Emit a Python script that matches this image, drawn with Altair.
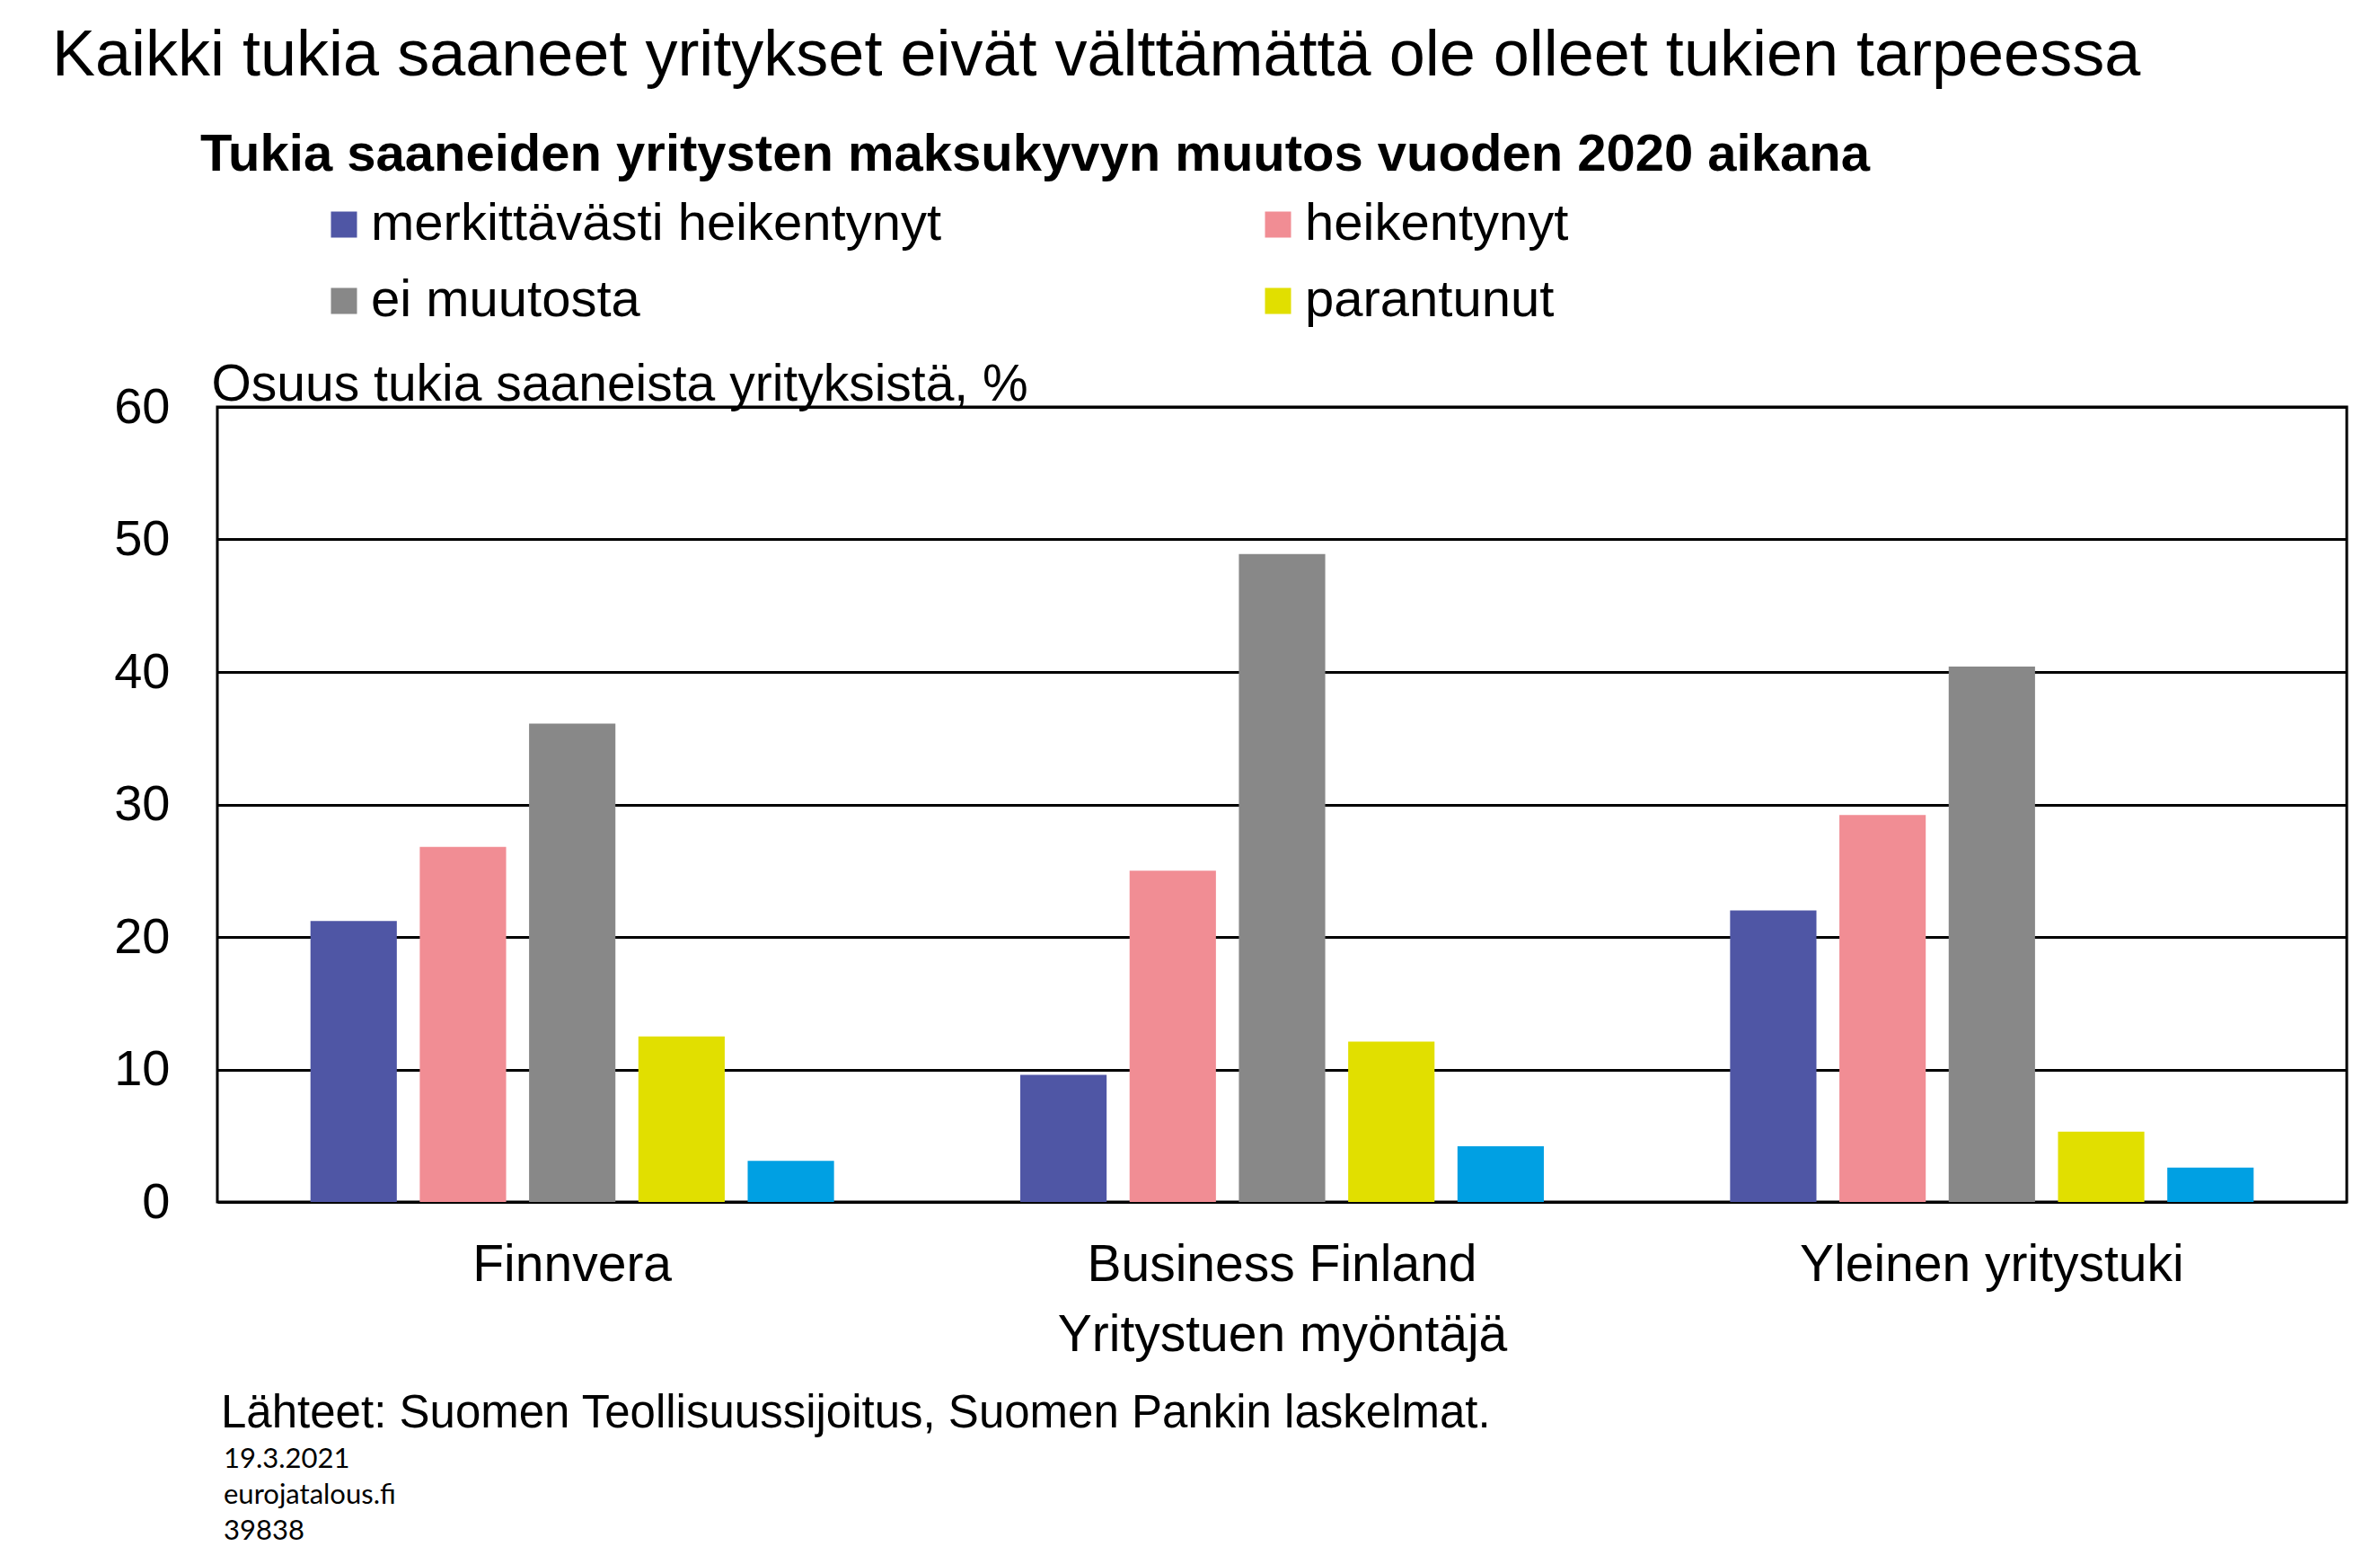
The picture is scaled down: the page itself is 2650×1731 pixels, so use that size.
import altair as alt
import pandas as pd

# ---- data ----
categories = ["Finnvera", "Business Finland", "Yleinen yritystuki"]
series = [
    "merkittävästi heikentynyt",
    "heikentynyt",
    "ei muutosta",
    "parantunut",
    "merkittävästi parantunut",
]
merkittavasti_heikentynyt = [21.2, 9.6, 22.0]
heikentynyt = [26.8, 25.0, 29.2]
ei_muutosta = [36.1, 48.9, 40.4]
parantunut = [12.5, 12.1, 5.3]
merkittavasti_parantunut = [3.1, 4.2, 2.6]
colors = ["#4F56A5", "#F18D94", "#888888", "#E1DF00", "#00A0E3"]
y_ticks = [0, 10, 20, 30, 40, 50, 60]

title_text = "Kaikki tukia saaneet yritykset eivät välttämättä ole olleet tukien tarpeessa"
subtitle_text = "Tukia saaneiden yritysten maksukyvyn muutos vuoden 2020 aikana"
y_title = "Osuus tukia saaneista yrityksistä, %"
x_title = "Yritystuen myöntäjä"
source_text = "Lähteet: Suomen Teollisuussijoitus, Suomen Pankin laskelmat."
footer_date = "19.3.2021"
footer_site = "eurojatalous.fi"
footer_id = "39838"

values_by_series = [
    merkittavasti_heikentynyt,
    heikentynyt,
    ei_muutosta,
    parantunut,
    merkittavasti_parantunut,
]
rows = []
for s, vals in zip(series, values_by_series):
    for c, v in zip(categories, vals):
        rows.append({"myontaja": c, "sarja": s, "osuus": v})
df = pd.DataFrame(rows)

FONT = "Liberation Sans"
W, H = 2371, 885

bars = alt.Chart(df).mark_bar().encode(
    x=alt.X(
        "myontaja:N",
        sort=categories,
        scale=alt.Scale(paddingInner=0, paddingOuter=0),
        axis=alt.Axis(
            title=x_title,
            labelAngle=0,
            labelFont=FONT,
            labelFontSize=57,
            labelColor="black",
            labelPadding=42,
            labelLimit=2000,
            ticks=False,
            tickSize=0,
            domain=False,
            grid=False,
            titleFont=FONT,
            titleFontSize=57,
            titleFontWeight="normal",
            titleColor="black",
            titleX=W / 2,
            titleY=165,
            titleBaseline="alphabetic",
            titleAlign="center",
        ),
    ),
    xOffset=alt.XOffset(
        "sarja:N",
        sort=series,
        scale=alt.Scale(paddingInner=0.21, paddingOuter=0.852),
    ),
    y=alt.Y(
        "osuus:Q",
        scale=alt.Scale(domain=[0, 60], nice=False),
        axis=alt.Axis(
            values=y_ticks,
            title=y_title,
            titleAngle=0,
            titleAlign="left",
            titleBaseline="alphabetic",
            titleX=-7,
            titleY=-8,
            titleFont=FONT,
            titleFontSize=57,
            titleFontWeight="normal",
            titleColor="black",
            labelFont=FONT,
            labelFontSize=56,
            labelColor="black",
            labelPadding=53,
            ticks=False,
            tickSize=0,
            domain=False,
            grid=True,
            gridColor="black",
            gridWidth=3,
            gridOpacity=1,
        ),
    ),
    color=alt.Color(
        "sarja:N",
        sort=series,
        scale=alt.Scale(domain=series, range=colors),
        legend=alt.Legend(
            title=None,
            values=series[:4],
            orient="none",
            legendX=112,
            legendY=-232,
            columns=2,
            direction="horizontal",
            symbolType="square",
            symbolSize=841,
            symbolStrokeWidth=0,
            labelFont=FONT,
            labelFontSize=58,
            labelColor="black",
            labelLimit=2000,
            labelOffset=1,
            columnPadding=345,
            rowPadding=27,
            padding=0,
            offset=0,
        ),
    ),
)

subtitle = alt.Chart(pd.DataFrame({"t": [subtitle_text]})).mark_text(
    align="left", baseline="alphabetic", font=FONT, fontSize=58,
    fontWeight="bold", color="black",
).encode(x=alt.value(-19), y=alt.value(-263), text="t:N")

source = alt.Chart(pd.DataFrame({"t": [source_text]})).mark_text(
    align="left", baseline="alphabetic", font=FONT, fontSize=51, color="black",
).encode(x=alt.value(4), y=alt.value(1136), text="t:N")

foot1 = alt.Chart(pd.DataFrame({"t": [footer_date]})).mark_text(
    align="left", baseline="alphabetic", font="Lato", fontSize=31, color="black",
).encode(x=alt.value(7), y=alt.value(1181), text="t:N")

foot2 = alt.Chart(pd.DataFrame({"t": [footer_site]})).mark_text(
    align="left", baseline="alphabetic", font="Lato", fontSize=31, color="black",
).encode(x=alt.value(7), y=alt.value(1221), text="t:N")

foot3 = alt.Chart(pd.DataFrame({"t": [footer_id]})).mark_text(
    align="left", baseline="alphabetic", font="Lato", fontSize=31, color="black",
).encode(x=alt.value(7), y=alt.value(1261), text="t:N")

chart = alt.layer(bars, subtitle, source, foot1, foot2, foot3).properties(
    width=W,
    height=H,
    title=alt.TitleParams(
        text=title_text,
        anchor="start",
        frame="group",
        font=FONT,
        fontSize=72,
        fontWeight="normal",
        color="black",
        baseline="alphabetic",
        dx=-184,
        dy=74,
        offset=62,
    ),
    autosize=alt.AutoSizeParams(type="none"),
    padding={"left": 234, "top": 445, "right": 29, "bottom": 385},
    background="white",
).configure_view(stroke="black", strokeWidth=3)

chart.save("out.html", embed_options={"renderer": "svg", "actions": False})
